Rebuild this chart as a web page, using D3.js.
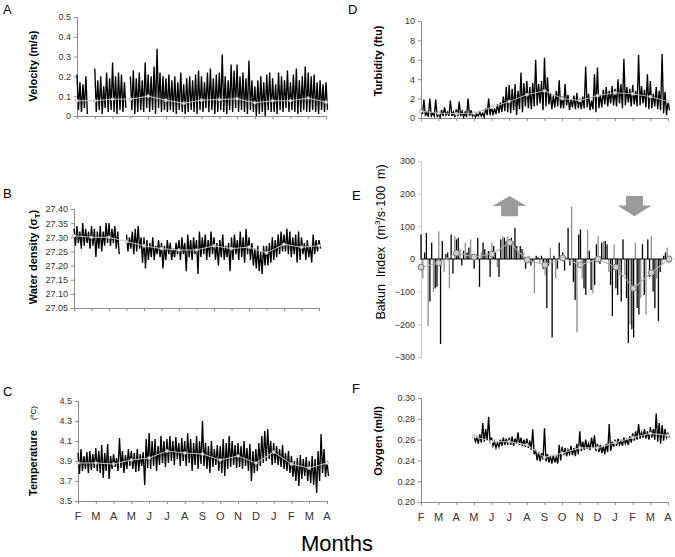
<!DOCTYPE html>
<html>
<head>
<meta charset="utf-8">
<script src="https://cdn.jsdelivr.net/npm/d3@7"></script>
<style>
  body { margin: 0; background: #fff; }
  svg { font-family: "Liberation Sans", Arial, sans-serif; }
</style>
</head>
<body>
<div id="chart"></div>
<script>
// month ticks, Feb to Apr of the next year
const months = ["F","M","A","M","J","J","A","S","O","N","D","J","F","M","A"];
const binsPerMonth = 6; // series arrays hold 6 high/low pairs per month

// A - velocity (m/s)
const velocityHi = [0.21,0.17,0.16,0.20,null,null, 0.24,0.18,0.20,0.15,0.22,0.19, 0.27,0.20,0.22,0.21,0.17,null,
  0.20,0.23,0.19,0.22,0.18,0.27, 0.21,0.20,0.25,0.34,0.22,0.20, 0.19,0.21,0.18,0.20,0.17,0.22,
  0.16,0.19,0.20,0.18,0.21,0.23, 0.20,0.17,0.22,0.24,0.19,0.21, 0.22,0.31,0.20,0.18,0.26,0.23,
  0.26,0.20,0.22,0.19,0.28,0.18, 0.15,0.18,0.20,0.17,0.21,0.22, 0.19,0.16,0.22,0.20,0.18,0.23,
  0.17,0.21,0.24,0.18,0.20,0.25, 0.22,0.20,0.21,0.17,0.18,0.16, 0.17];
const velocityLo = [0.03,0.02,0.04,0.01,null,null, 0.02,0.03,0.01,0.04,0.02,0.03, 0.02,0.01,0.03,0.02,0.04,null,
  0.03,0.01,0.02,0.03,0.02,0.04, 0.02,0.03,0.01,0.04,0.02,0.03, 0.02,0.03,0.02,0.01,0.03,0.02,
  0.01,0.02,0.03,0.02,0.01,0.03, 0.02,0.04,0.02,0.03,0.01,0.02, 0.03,0.02,0.01,0.03,0.02,0.04,
  0.02,0.03,0.02,0.01,0.03,0.02, 0.00,0.01,0.02,0.00,0.03,0.02, 0.02,0.01,0.03,0.02,0.04,0.02,
  0.03,0.02,0.01,0.02,0.03,0.02, 0.02,0.03,0.02,0.01,0.03,0.02, 0.03];
const velocityMean = [0.077,0.077,0.085,0.085,0.100,0.080,0.064,0.080,0.083,0.087,0.067,0.077,0.077,0.090,0.070];

// B - water density (sigma t)
const densityHi = [27.33,27.34,27.32,27.35,27.33,27.32, 27.34,27.33,27.32,27.34,27.32,27.35, 27.35,27.33,27.34,27.32,null,null,
  27.31,27.30,27.32,27.33,27.34,27.30, 27.30,27.29,27.28,27.30,27.27,27.29, 27.28,27.27,27.29,27.28,27.26,27.28,
  27.29,27.30,27.28,27.31,27.29,27.30, 27.29,27.32,27.30,27.31,27.29,27.32, 27.30,27.28,27.29,27.31,27.27,27.28,
  27.30,27.31,27.29,27.32,27.30,27.33, 27.30,27.28,27.26,27.27,27.25,27.27, 27.27,27.28,27.30,27.29,27.31,27.32,
  27.31,27.33,27.32,27.30,27.31,27.32, 27.30,27.28,27.29,27.27,27.31,27.29, 27.29];
const densityLo = [27.27,27.28,27.26,27.27,27.28,27.26, 27.27,27.23,27.26,27.25,27.27,27.28, 27.27,27.28,27.26,27.24,null,null,
  27.25,27.26,27.24,27.25,27.26,27.21, 27.19,27.22,27.23,27.22,27.24,27.23, 27.19,27.22,27.24,27.22,27.23,27.24,
  27.22,27.24,27.18,27.23,27.22,27.24, 27.17,27.23,27.24,27.22,27.23,27.24, 27.22,27.20,27.23,27.22,27.23,27.18,
  27.22,27.24,27.22,27.23,27.21,27.24, 27.22,27.20,27.19,27.18,27.17,27.20, 27.20,27.21,27.22,27.23,27.24,27.25,
  27.25,27.24,27.23,27.24,27.21,27.22, 27.24,27.22,27.23,27.21,27.24,27.25, 27.26];
const densityMean = [27.305,27.30,27.30,27.285,27.27,27.26,27.255,27.255,27.27,27.26,27.265,27.245,27.275,27.265,27.27];

// C - temperature (ºC)
const tempHi = [3.98,4.02,3.95,3.99,4.00,3.97, 4.03,4.00,4.06,3.98,4.07,3.95, 3.97,3.93,4.13,4.00,3.96,4.02,
  4.00,3.98,4.02,3.97,3.99,4.12, 4.18,4.10,4.12,4.05,4.15,4.10, 4.12,4.15,4.10,4.14,4.08,4.13,
  4.10,4.18,4.12,4.08,4.15,4.10, 4.30,4.08,4.05,4.10,4.02,4.06, 4.05,4.12,4.08,4.15,4.10,4.06,
  4.08,4.05,4.10,4.03,4.07,4.00, 4.02,4.08,4.15,4.20,4.22,4.10, 4.08,4.05,4.02,4.06,3.98,4.00,
  3.95,3.90,3.93,3.96,3.92,3.94, 3.90,3.95,3.92,4.00,4.17,4.02, 3.90];
const tempLo = [3.77,3.80,3.82,3.78,3.81,3.83, 3.80,3.78,3.73,3.80,3.72,3.82, 3.84,3.80,3.83,3.78,3.82,3.85,
  3.82,3.79,3.80,3.85,3.66,3.83, 3.82,3.85,3.80,3.86,3.88,3.84, 3.88,3.90,3.86,3.92,3.85,3.90,
  3.85,3.88,3.80,3.86,3.82,3.87, 3.85,3.82,3.78,3.84,3.86,3.80, 3.78,3.75,3.82,3.84,3.86,3.83,
  3.84,3.82,3.85,3.80,3.70,3.78, 3.80,3.85,3.88,3.90,3.92,3.86, 3.88,3.86,3.84,3.82,3.80,3.78,
  3.74,3.70,3.65,3.72,3.75,3.70, 3.68,3.66,3.58,3.70,3.78,3.74, 3.75];
const tempMean = [3.88,3.88,3.87,3.91,3.93,4.00,3.98,3.97,3.91,3.95,3.88,3.99,3.87,3.83,3.88];

// D - turbidity (ftu)
const turbHi = [0.9,1.9,0.6,2.0,0.5,1.9, 0.5,0.8,1.1,0.6,1.8,0.6, 0.9,1.7,0.7,0.6,2.0,0.8,
  0.5,0.4,0.6,0.5,1.0,2.0, 1.2,1.0,1.4,1.6,2.2,3.2, 3.4,3.0,3.5,2.8,4.7,3.6,
  3.8,3.2,3.6,6.0,3.5,3.8, 6.2,4.2,2.6,2.3,2.8,3.9, 2.2,3.5,2.4,1.9,2.3,2.6,
  2.0,2.2,5.3,2.5,1.8,4.5, 5.2,2.4,2.9,3.2,2.8,3.3, 3.0,4.0,3.5,6.1,3.2,3.0,
  3.4,2.8,6.5,3.3,2.9,4.5, 3.8,2.5,3.2,2.8,6.6,2.7, 1.8];
const turbLo = [0.4,0.2,0.1,0.2,0.2,0.1, 0.1,0.2,0.3,0.2,0.2,0.1, 0.2,0.2,0.1,0.1,0.2,0.2,
  0.1,0.2,0.2,0.1,0.3,0.3, 0.3,0.4,0.5,0.6,0.7,0.6, 0.5,0.8,0.3,0.9,0.6,1.2,
  1.0,0.9,1.2,1.3,1.5,0.8, 1.2,1.4,0.9,1.1,1.2,1.0, 1.0,1.3,0.8,1.1,0.9,1.0,
  0.9,1.0,1.1,0.8,0.9,0.6, 1.0,1.1,1.4,1.2,1.5,1.3, 1.2,1.5,1.0,1.3,1.6,1.2,
  1.4,1.2,1.3,1.5,1.1,0.9, 1.0,1.2,0.9,0.8,0.5,0.3, 0.8];
const turbMean = [0.7,0.5,0.45,0.5,1.1,1.7,2.4,2.8,2.0,1.8,2.3,2.6,2.5,2.2,1.7];

// E - Bakun index, 10 values per month
const bakun = [75,-60,20,80,-205,-130,50,-100,-90,-85,
  85,-260,55,-40,15,20,-90,75,-45,70,
  60,65,30,-20,25,50,20,35,60,15,
  -30,5,65,-85,20,50,30,15,25,-55,
  50,40,20,-25,-55,60,70,65,55,70,
  60,65,55,95,40,25,40,30,20,-30,
  5,10,-20,-10,-105,10,5,-15,10,-30,
  -50,-150,-20,35,-240,10,-60,-30,50,5,
  20,-35,5,95,-20,160,-70,-125,-225,75,
  90,-60,-90,-110,90,25,-95,-105,-80,45,
  70,-15,50,55,55,45,-40,-80,-175,45,
  -90,-110,-50,-130,60,-50,-120,-257,-200,-215,
  -240,50,-150,-170,-120,45,-110,-170,60,-55,
  70,-100,-150,-60,-190,-40,-20,10,20,35,
  -10];
const bakunPerMonth = 10;
const bakunMean = [-25,-12,18,6,15,50,-3,-18,3,-18,0,-25,-90,-42,0];

// F - oxygen (ml/l), record starts in May
const oxygenStart = 3;
const oxygenHi = [0.264,0.262,0.265,0.276,0.270,0.282, 0.262,0.258,0.257,0.260,0.262,0.261,
  0.262,0.263,0.261,0.267,0.262,0.260, 0.261,0.259,0.270,0.250,0.248,0.247,
  0.271,0.246,0.244,0.245,0.243,0.255, 0.253,0.252,0.250,0.254,0.252,0.256,
  0.268,0.258,0.260,0.256,0.262,0.264, 0.256,0.255,0.254,0.256,0.275,0.258,
  0.260,0.261,0.259,0.262,0.260,0.263, 0.266,0.268,0.275,0.267,0.270,0.268,
  0.272,0.270,0.285,0.276,0.274,0.270, 0.266];
const oxygenLo = [0.258,0.256,0.257,0.258,0.259,0.257, 0.254,0.252,0.253,0.254,0.255,0.255,
  0.255,0.254,0.256,0.255,0.254,0.253, 0.252,0.250,0.246,0.240,0.239,0.241,
  0.239,0.238,0.237,0.238,0.237,0.240, 0.245,0.244,0.246,0.245,0.244,0.246,
  0.249,0.250,0.251,0.250,0.252,0.249, 0.248,0.247,0.246,0.248,0.249,0.253,
  0.254,0.255,0.254,0.256,0.255,0.257, 0.259,0.260,0.261,0.262,0.261,0.260,
  0.262,0.260,0.258,0.256,0.259,0.262, 0.262];
const oxygenMean = [0.263,0.258,0.258,0.255,0.243,0.247,0.252,0.252,0.257,0.262,0.266,0.264];

const W = 675, H = 557;
const svg = d3.select('#chart').append('svg')
  .attr('width', W)
  .attr('height', H)
  .style('background-color', 'white');

const axisGrey = '#8c8c8c';
const labelCol = '#333';

function panel(p) {
  const g = svg.append('g');
  const x = d3.scaleLinear().domain([0, 14]).range([p.x0, p.x1]);
  const y = d3.scaleLinear().domain(p.domain).range([p.yBot, p.yTop]);

  // y axis
  const yAx = g.append('g')
    .attr('transform', `translate(${p.x0},0)`)
    .call(d3.axisLeft(y).tickValues(p.ticks).tickFormat(p.fmt).tickSize(3).tickPadding(3));
  yAx.select('.domain').attr('stroke', p.axisCol || axisGrey);
  yAx.selectAll('.tick line').attr('stroke', p.axisCol || axisGrey);
  yAx.selectAll('.tick text').attr('fill', labelCol).style('font-size', '9px');

  // x axis
  if (p.xAxis !== false) {
    const xAx = g.append('g')
      .attr('transform', `translate(0,${p.yBot})`)
      .call(d3.axisBottom(x).tickValues(d3.range(months.length)).tickSize(3).tickFormat(''));
    xAx.select('.domain').attr('stroke', axisGrey);
    xAx.selectAll('.tick line').attr('stroke', axisGrey);
    if (p.monthLabels) {
      g.selectAll('.mlab').data(months).join('text')
        .attr('x', (d, i) => x(i))
        .attr('y', p.yBot + 19)
        .attr('text-anchor', 'middle')
        .attr('fill', labelCol)
        .style('font-size', '11px')
        .text(d => d);
    }
  }

  // dense series: high/low pairs drawn as a zigzag
  if (p.hi) {
    const start = p.start || 0;
    const pts = [];
    p.hi.forEach((h, i) => {
      if (h == null) { pts.push(null); return; }
      const t = start + i / binsPerMonth;
      pts.push([t, h]);
      pts.push([t + 0.5 / binsPerMonth, p.lo[i]]);
    });
    g.append('path')
      .attr('d', d3.line().defined(d => d).x(d => x(d[0])).y(d => y(d[1]))(pts))
      .attr('fill', 'none')
      .attr('stroke', '#000')
      .attr('stroke-width', 1.35);
  }

  // monthly mean
  if (p.mean) {
    const ms = p.meanStart || 0;
    const line = d3.line().x((d, i) => x(ms + i)).y(d => y(d));
    g.append('path')
      .attr('d', line(p.mean))
      .attr('fill', 'none')
      .attr('stroke', p.meanCol || '#c8c8c8')
      .attr('stroke-width', 1);
    g.selectAll('.mk').data(p.mean).join('circle')
      .attr('cx', (d, i) => x(ms + i))
      .attr('cy', d => y(d))
      .attr('r', p.markR || 1.6)
      .attr('fill', p.markFill || '#e6e6e6')
      .attr('stroke', p.markStroke || '#aaa')
      .attr('stroke-width', 0.7);
  }
  return { g, x, y };
}

// panel A
panel({ x0: 77, x1: 326, yTop: 17, yBot: 116, domain: [0, 0.5],
  ticks: [0, 0.1, 0.2, 0.3, 0.4, 0.5], fmt: d => d === 0 ? '0' : d3.format('.1f')(d),
  hi: velocityHi, lo: velocityLo, mean: velocityMean });

// panel B
panel({ x0: 74, x1: 319, yTop: 209, yBot: 308, domain: [27.05, 27.40],
  ticks: [27.05, 27.10, 27.15, 27.20, 27.25, 27.30, 27.35, 27.40], fmt: d3.format('.2f'),
  hi: densityHi, lo: densityLo, mean: densityMean });

// panel C
panel({ x0: 78, x1: 327, yTop: 401, yBot: 501, domain: [3.5, 4.5],
  ticks: [3.5, 3.7, 3.9, 4.1, 4.3, 4.5], fmt: d3.format('.1f'),
  hi: tempHi, lo: tempLo, mean: tempMean, monthLabels: true });

// panel D
panel({ x0: 421, x1: 668, yTop: 21, yBot: 118, domain: [0, 10],
  ticks: [0, 2, 4, 6, 8, 10], fmt: d3.format('d'),
  hi: turbHi, lo: turbLo, mean: turbMean, meanCol: '#b5b5b5' });

// panel E, Bakun bars
const e = panel({ x0: 421, x1: 669, yTop: 161, yBot: 357, domain: [-300, 300],
  ticks: [-300, -200, -100, 0, 100, 200, 300], fmt: d3.format('d'),
  xAxis: false, axisCol: '#c8c8c8' });
e.g.append('g').selectAll('rect').data(bakun).join('rect')
  .attr('x', (d, i) => e.x(i / bakunPerMonth) - 0.6)
  .attr('y', d => e.y(Math.max(0, d)))
  .attr('width', 1.3)
  .attr('height', d => Math.abs(e.y(d) - e.y(0)))
  .attr('fill', (d, i) => i % 3 === 1 ? '#8f8f8f' : '#000');
e.g.append('line')
  .attr('x1', e.x(0)).attr('x2', e.x(14))
  .attr('y1', e.y(0)).attr('y2', e.y(0))
  .attr('stroke', '#000').attr('stroke-width', 1.2);
{
  const line = d3.line().x((d, i) => e.x(i)).y(d => e.y(d));
  e.g.append('path').attr('d', line(bakunMean))
    .attr('fill', 'none').attr('stroke', '#b0b0b0').attr('stroke-width', 1.1);
  e.g.selectAll('.bm').data(bakunMean).join('circle')
    .attr('cx', (d, i) => e.x(i)).attr('cy', d => e.y(d)).attr('r', 3)
    .attr('fill', '#cfcfcf').attr('stroke', '#6f6f6f').attr('stroke-width', 0.9);
}
// upwelling / downwelling arrows
function arrow(cx, up) {
  const hw = 17, sw = 8.5;
  const top = e.y(193), bot = e.y(131), mid = up ? e.y(162) : e.y(164);
  const pts = up
    ? [[cx, top], [cx + hw, mid], [cx + sw, mid], [cx + sw, bot], [cx - sw, bot], [cx - sw, mid], [cx - hw, mid]]
    : [[cx - sw, top], [cx + sw, top], [cx + sw, mid], [cx + hw, mid], [cx, bot], [cx - hw, mid], [cx - sw, mid]];
  e.g.append('polygon').attr('points', pts.map(p => p.join(',')).join(' ')).attr('fill', '#9a9a9a');
}
arrow(e.x(5), true);
arrow(e.x(12.05), false);

// panel F
panel({ x0: 421, x1: 668, yTop: 398, yBot: 502, domain: [0.20, 0.30],
  ticks: [0.20, 0.22, 0.24, 0.26, 0.28, 0.30], fmt: d3.format('.2f'),
  hi: oxygenHi, lo: oxygenLo, start: oxygenStart, mean: oxygenMean, meanStart: oxygenStart,
  monthLabels: true });

// panel letters
const letters = [['A', 3, 14], ['B', 3, 198], ['C', 3, 396], ['D', 348, 14], ['E', 352, 200], ['F', 352, 393]];
svg.selectAll('.letter').data(letters).join('text')
  .attr('x', d => d[1]).attr('y', d => d[2])
  .style('font-size', '13px')
  .text(d => d[0]);

// y axis titles
function yTitle(x, y, bold) {
  return svg.append('text')
    .attr('transform', `translate(${x},${y}) rotate(-90)`)
    .attr('text-anchor', 'middle')
    .style('font-size', '11px')
    .style('font-weight', bold ? 'bold' : 'normal')
    .style('white-space', 'pre');
}
yTitle(37, 66, true).text('Velocity (m/s)');
{
  const t = yTitle(37, 257, true);
  t.append('tspan').text('Water density (σ');
  t.append('tspan').text('T').style('font-size', '8px').attr('dy', 3);
  t.append('tspan').text(')').attr('dy', -3);
}
{
  const t = yTitle(37, 451, true);
  t.append('tspan').text('Temperature');
  t.append('tspan').text('(ºC)').style('font-size', '8px').style('font-weight', 'normal').attr('dx', 10).attr('dy', -1);
}
yTitle(382, 61, true).text('Turbidity (ftu)');
{
  const t = yTitle(385, 242, false).style('font-size', '12.5px');
  t.append('tspan').text('Bakun  Index  (m');
  t.append('tspan').text('3').style('font-size', '8px').attr('dy', -5);
  t.append('tspan').text('/s·100  m)').attr('dy', 5);
}
yTitle(382, 441, true).text('Oxygen (ml/l)');

// shared x title
svg.append('text')
  .attr('x', 337).attr('y', 551)
  .attr('text-anchor', 'middle')
  .style('font-size', '22px')
  .text('Months');
</script>
</body>
</html>
